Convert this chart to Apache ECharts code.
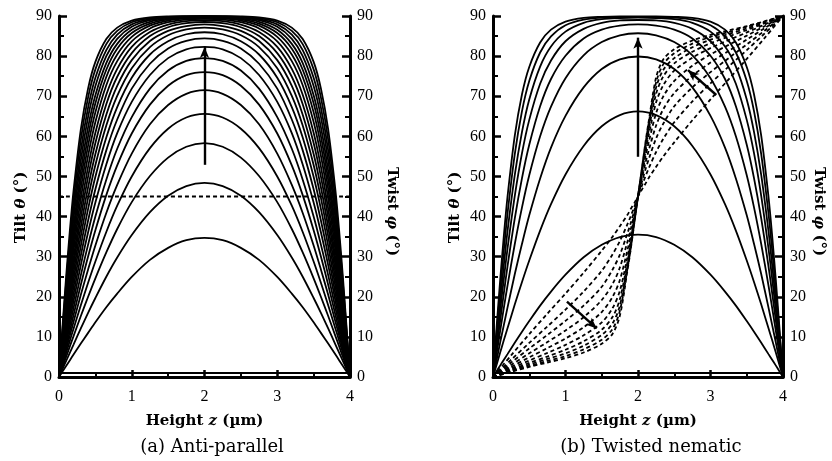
<!DOCTYPE html>
<html>
<head>
<meta charset="utf-8">
<script src="https://cdn.jsdelivr.net/npm/echarts@6/dist/echarts.min.js"></script>
<style>
html, body { margin: 0; padding: 0; background: #fff; }
#chart { width: 832px; height: 461px; }
</style>
</head>
<body>
<div id="chart"></div>
<script>
// height z (um) sample points for tilt profiles
const zTilt = [0, 0.05, 0.1, 0.15, 0.2, 0.3, 0.4, 0.5, 0.65, 0.8, 1, 1.25, 1.5, 1.75, 2,
  2.25, 2.5, 2.75, 3, 3.2, 3.35, 3.5, 3.6, 3.7, 3.8, 3.85, 3.9, 3.95, 4];
// height z (um) sample points for twist profiles
const zTwist = [0, 0.25, 0.5, 0.75, 1, 1.25, 1.5, 1.65, 1.75, 1.85, 1.9, 1.95, 2,
  2.05, 2.1, 2.15, 2.25, 2.35, 2.5, 2.75, 3, 3.25, 3.5, 3.75, 4];

// (a) anti-parallel: tilt theta (deg), one row per voltage
const tiltA = [
  [0, 1.4, 2.8, 4.2, 5.6, 8.35, 11.0, 13.65, 17.4, 20.8, 24.95, 29.2, 32.2, 34.1, 34.7, 34.1, 32.2, 29.2, 24.95, 20.8, 17.4, 13.65, 11.0, 8.35, 5.6, 4.2, 2.8, 1.4, 0],
  [0, 2.04, 4.08, 6.1, 8.1, 12.1, 16.0, 19.7, 25.0, 29.8, 35.4, 41.1, 45.2, 47.6, 48.4, 47.6, 45.2, 41.1, 35.4, 29.8, 25.0, 19.7, 16.0, 12.1, 8.1, 6.1, 4.08, 2.04, 0],
  [0, 2.6, 5.1, 7.7, 10.2, 15.2, 20.0, 24.6, 31.05, 36.9, 43.6, 50.1, 54.7, 57.4, 58.3, 57.4, 54.7, 50.1, 43.6, 36.9, 31.05, 24.6, 20.0, 15.2, 10.2, 7.7, 5.1, 2.6, 0],
  [0, 3.0, 6.1, 9.1, 12.05, 17.9, 23.5, 28.8, 36.15, 42.7, 50.0, 57.05, 61.9, 64.7, 65.6, 64.7, 61.9, 57.05, 50.0, 42.7, 36.15, 28.8, 23.5, 17.9, 12.05, 9.1, 6.1, 3.0, 0],
  [0, 3.5, 7.0, 10.4, 13.8, 20.5, 26.8, 32.8, 40.9, 47.9, 55.7, 63.0, 67.8, 70.6, 71.5, 70.6, 67.8, 63.0, 55.7, 47.9, 40.9, 32.8, 26.8, 20.5, 13.8, 10.4, 7.0, 3.5, 0],
  [0, 3.6, 7.6, 11.55, 15.45, 23.0, 30.05, 36.6, 45.35, 52.75, 60.7, 67.9, 72.6, 75.25, 76.0, 75.25, 72.6, 67.9, 60.7, 52.75, 45.35, 36.6, 30.05, 23.0, 15.45, 11.55, 7.6, 3.6, 0],
  [0, 4.2, 8.6, 12.9, 17.2, 25.4, 33.0, 40.0, 49.2, 56.9, 64.8, 71.9, 76.4, 78.8, 79.5, 78.8, 76.4, 71.9, 64.8, 56.9, 49.2, 40.0, 33.0, 25.4, 17.2, 12.9, 8.6, 4.2, 0],
  [0, 4.7, 9.6, 14.3, 19.0, 27.9, 36.1, 43.5, 53.0, 60.8, 68.6, 75.3, 79.5, 81.7, 82.3, 81.7, 79.5, 75.3, 68.6, 60.8, 53.0, 43.5, 36.1, 27.9, 19.0, 14.3, 9.6, 4.7, 0],
  [0, 5.25, 10.5, 15.7, 20.7, 30.3, 39.0, 46.8, 56.5, 64.2, 71.9, 78.1, 81.9, 83.8, 84.4, 83.8, 81.9, 78.1, 71.9, 64.2, 56.5, 46.8, 39.0, 30.3, 20.7, 15.7, 10.5, 5.25, 0],
  [0, 5.7, 11.45, 17.05, 22.5, 32.7, 41.9, 49.9, 59.7, 67.3, 74.6, 80.4, 83.7, 85.45, 85.95, 85.45, 83.7, 80.4, 74.6, 67.3, 59.7, 49.9, 41.9, 32.7, 22.5, 17.05, 11.45, 5.7, 0],
  [0, 6.25, 12.4, 18.45, 24.25, 35.1, 44.65, 52.85, 62.7, 70.1, 77.0, 82.25, 85.2, 86.65, 87.1, 86.65, 85.2, 82.25, 77.0, 70.1, 62.7, 52.85, 44.65, 35.1, 24.25, 18.45, 12.4, 6.25, 0],
  [0, 6.7, 13.3, 19.8, 26.0, 37.4, 47.3, 55.6, 65.4, 72.6, 79.0, 83.75, 86.3, 87.5, 87.9, 87.5, 86.3, 83.75, 79.0, 72.6, 65.4, 55.6, 47.3, 37.4, 26.0, 19.8, 13.3, 6.7, 0],
  [0, 7.2, 14.3, 21.2, 27.8, 39.8, 49.95, 58.35, 68.0, 74.85, 80.75, 85.0, 87.2, 88.2, 88.5, 88.2, 87.2, 85.0, 80.75, 74.85, 68.0, 58.35, 49.95, 39.8, 27.8, 21.2, 14.3, 7.2, 0],
  [0, 7.7, 15.3, 22.6, 29.5, 42.0, 52.45, 60.9, 70.35, 76.8, 82.3, 86.0, 87.85, 88.7, 88.95, 88.7, 87.85, 86.0, 82.3, 76.8, 70.35, 60.9, 52.45, 42.0, 29.5, 22.6, 15.3, 7.7, 0],
  [0, 8.3, 16.4, 24.2, 31.5, 44.5, 55.15, 63.55, 72.75, 78.75, 83.7, 86.9, 88.45, 89.1, 89.3, 89.1, 88.45, 86.9, 83.7, 78.75, 72.75, 63.55, 55.15, 44.5, 31.5, 24.2, 16.4, 8.3, 0],
  [0, 8.85, 17.5, 25.7, 33.45, 46.9, 57.7, 66.0, 74.8, 80.4, 84.8, 87.6, 88.85, 89.4, 89.55, 89.4, 88.85, 87.6, 84.8, 80.4, 74.8, 66.0, 57.7, 46.9, 33.45, 25.7, 17.5, 8.85, 0],
  [0, 9.4, 18.6, 27.25, 35.35, 49.2, 60.05, 68.25, 76.6, 81.85, 85.75, 88.1, 89.15, 89.55, 89.7, 89.55, 89.15, 88.1, 85.75, 81.85, 76.6, 68.25, 60.05, 49.2, 35.35, 27.25, 18.6, 9.4, 0],
  [0, 10.0, 19.65, 28.8, 37.2, 51.4, 62.3, 70.25, 78.25, 83.05, 86.55, 88.55, 89.35, 89.7, 89.8, 89.7, 89.35, 88.55, 86.55, 83.05, 78.25, 70.25, 62.3, 51.4, 37.2, 28.8, 19.65, 10.0, 0],
  [0, 10.7, 21.0, 30.65, 39.45, 54.0, 64.85, 72.55, 80.0, 84.3, 87.3, 88.95, 89.6, 89.8, 89.9, 89.8, 89.6, 88.95, 87.3, 84.3, 80.0, 72.55, 64.85, 54.0, 39.45, 30.65, 21.0, 10.7, 0],
  [0, 11.4, 22.3, 32.5, 41.6, 56.5, 67.2, 74.6, 81.5, 85.35, 87.9, 89.2, 89.7, 89.85, 89.9, 89.85, 89.7, 89.2, 87.9, 85.35, 81.5, 74.6, 67.2, 56.5, 41.6, 32.5, 22.3, 11.4, 0],
  [0, 12.2, 23.9, 34.6, 44.1, 59.2, 69.7, 76.7, 83.0, 86.3, 88.45, 89.45, 89.8, 89.9, 89.95, 89.9, 89.8, 89.45, 88.45, 86.3, 83.0, 76.7, 69.7, 59.2, 44.1, 34.6, 23.9, 12.2, 0],
  [0, 13.05, 25.45, 36.7, 46.5, 61.75, 71.95, 78.55, 84.25, 87.1, 88.85, 89.65, 89.9, 89.95, 89.95, 89.95, 89.9, 89.65, 88.85, 87.1, 84.25, 78.55, 71.95, 61.75, 46.5, 36.7, 25.45, 13.05, 0]
];
// (a) twist phi stays at 45 deg
const twistAz = [0, 4];
const twistA = [45, 45];

// (b) twisted nematic: tilt theta (deg)
const tiltB = [
  [0, 1.45, 2.9, 4.3, 5.7, 8.55, 11.3, 13.95, 17.8, 21.3, 25.5, 29.85, 32.95, 34.9, 35.5, 34.9, 32.95, 29.85, 25.5, 21.3, 17.8, 13.95, 11.3, 8.55, 5.7, 4.3, 2.9, 1.45, 0],
  [0, 3.05, 6.15, 9.2, 12.15, 18.05, 23.7, 29.05, 36.5, 43.1, 50.5, 57.6, 62.5, 65.3, 66.2, 65.3, 62.5, 57.6, 50.5, 43.1, 36.5, 29.05, 23.7, 18.05, 12.15, 9.2, 6.15, 3.05, 0],
  [0, 4.25, 8.7, 13.0, 17.3, 25.6, 33.2, 40.3, 49.5, 57.2, 65.1, 72.2, 76.8, 79.2, 79.9, 79.2, 76.8, 72.2, 65.1, 57.2, 49.5, 40.3, 33.2, 25.6, 17.3, 13.0, 8.7, 4.25, 0],
  [0, 5.8, 11.6, 17.3, 22.8, 33.1, 42.3, 50.3, 60.0, 67.4, 74.5, 80.2, 83.5, 85.2, 85.7, 85.2, 83.5, 80.2, 74.5, 67.4, 60.0, 50.3, 42.3, 33.1, 22.8, 17.3, 11.6, 5.8, 0],
  [0, 7.15, 14.2, 21.0, 27.6, 39.5, 49.6, 57.9, 67.5, 74.3, 80.1, 84.4, 86.6, 87.6, 87.9, 87.6, 86.6, 84.4, 80.1, 74.3, 67.5, 57.9, 49.6, 39.5, 27.6, 21.0, 14.2, 7.15, 0],
  [0, 8.45, 16.7, 24.6, 32.0, 45.1, 55.8, 64.1, 73.1, 78.9, 83.7, 86.8, 88.3, 88.9, 89.0, 88.9, 88.3, 86.8, 83.7, 78.9, 73.1, 64.1, 55.8, 45.1, 32.0, 24.6, 16.7, 8.45, 0],
  [0, 9.7, 19.1, 28.0, 36.3, 50.3, 61.1, 69.2, 77.4, 82.4, 86.1, 88.3, 89.2, 89.5, 89.6, 89.5, 89.2, 88.3, 86.1, 82.4, 77.4, 69.2, 61.1, 50.3, 36.3, 28.0, 19.1, 9.7, 0],
  [0, 11.1, 21.8, 31.7, 40.7, 55.5, 66.3, 73.8, 80.9, 84.9, 87.7, 89.1, 89.6, 89.75, 89.8, 89.75, 89.6, 89.1, 87.7, 84.9, 80.9, 73.8, 66.3, 55.5, 40.7, 31.7, 21.8, 11.1, 0],
  [0, 12.5, 24.4, 35.3, 44.9, 60.1, 70.5, 77.3, 83.4, 86.6, 88.6, 89.55, 89.8, 89.9, 89.9, 89.9, 89.8, 89.55, 88.6, 86.6, 83.4, 77.3, 70.5, 60.1, 44.9, 35.3, 24.4, 12.5, 0]
];
// (b) twisted nematic: twist phi (deg)
const twistB = [
  [0, 5.4, 10.7, 15.8, 20.8, 26.0, 31.5, 35.0, 37.6, 40.3, 41.9, 43.4, 45, 46.6, 48.1, 49.7, 52.4, 55.0, 58.5, 64.0, 69.2, 74.2, 79.3, 84.6, 90],
  [0, 4.3, 8.5, 12.6, 16.8, 21.3, 26.5, 30.6, 33.9, 37.9, 40.1, 42.5, 45, 47.5, 49.9, 52.1, 56.1, 59.4, 63.5, 68.7, 73.2, 77.4, 81.5, 85.7, 90],
  [0, 3.6, 7.1, 10.5, 14.0, 17.8, 22.5, 26.8, 30.5, 35.6, 38.4, 41.6, 45, 48.4, 51.6, 54.4, 59.5, 63.2, 67.5, 72.2, 76.0, 79.5, 82.9, 86.4, 90],
  [0, 3.0, 5.9, 8.7, 11.6, 14.9, 19.2, 23.2, 27.3, 33.4, 36.8, 40.8, 45, 49.2, 53.2, 56.6, 62.7, 66.8, 70.8, 75.1, 78.4, 81.3, 84.1, 87.0, 90],
  [0, 2.5, 4.9, 7.2, 9.6, 12.4, 16.2, 20.0, 24.2, 31.3, 35.3, 40.1, 45, 49.9, 54.7, 58.7, 65.8, 70.0, 73.8, 77.6, 80.4, 82.8, 85.1, 87.5, 90],
  [0, 2.1, 4.1, 6.0, 8.0, 10.4, 13.6, 17.2, 21.5, 29.5, 34.1, 39.5, 45, 50.5, 55.9, 60.5, 68.5, 72.8, 76.4, 79.6, 82.0, 84.0, 85.9, 87.9, 90],
  [0, 1.8, 3.5, 5.1, 6.8, 8.9, 11.8, 15.0, 19.4, 28.2, 33.2, 39.1, 45, 50.9, 56.8, 61.8, 70.6, 75.0, 78.2, 81.1, 83.2, 84.9, 86.5, 88.2, 90],
  [0, 1.6, 3.1, 4.5, 5.9, 7.8, 10.5, 13.4, 17.8, 27.2, 32.6, 38.8, 45, 51.2, 57.4, 62.8, 72.2, 76.6, 79.5, 82.2, 84.1, 85.5, 86.9, 88.4, 90],
  [0, 1.4, 2.7, 4.0, 5.2, 6.9, 9.3, 12.0, 16.5, 26.5, 32.2, 38.6, 45, 51.4, 57.8, 63.5, 73.5, 78.0, 80.7, 83.1, 84.8, 86.0, 87.3, 88.6, 90],
  [0, 1.3, 2.5, 3.6, 4.7, 6.1, 8.3, 10.8, 15.3, 26.0, 31.9, 38.5, 45, 51.5, 58.1, 64.0, 74.7, 79.2, 81.7, 83.9, 85.3, 86.4, 87.5, 88.7, 90]
];

// zero-level line drawn just above the bottom axis
const baseZ = [0, 4];
const baseVal = [1.0, 1.0];

// arrows [zStart, valStart, zEnd, valEnd]
const arrowsA = [[2, 52.9, 2, 82.3]];
const arrowsB = [[2, 54.9, 2, 84.6], [1.02, 18.8, 1.43, 12.1], [3.08, 70.3, 2.69, 76.5]];

const xTicks = [0, 4, 1];
const yTicks = [0, 90, 10];
const titles = ['(a) Anti-parallel', '(b) Twisted nematic'];

const SERIF = 'Liberation Serif';
const NAMEFONT = 'DejaVu Serif';

function pairs(z, v) {
  return z.map((x, i) => [x, v[i]]);
}

function lineSeries(z, v, grid, dashed) {
  return {
    type: 'line',
    xAxisIndex: grid,
    yAxisIndex: grid * 2,
    data: pairs(z, v),
    symbol: 'none',
    smooth: 0.3,
    silent: true,
    lineStyle: {
      color: '#000',
      width: 1.8,
      type: dashed ? [4, 3] : 'solid'
    }
  };
}

function arrowSeries(list, grid) {
  return {
    type: 'line',
    xAxisIndex: grid,
    yAxisIndex: grid * 2,
    data: [],
    silent: true,
    markLine: {
      silent: true,
      animation: false,
      symbol: ['none', 'arrow'],
      symbolSize: [7, 11],
      label: { show: false },
      lineStyle: { color: '#000', width: 2.4, type: 'solid' },
      data: list.map(a => [{ coord: [a[0], a[1]] }, { coord: [a[2], a[3]] }])
    }
  };
}

const nameRich = {
  i: { fontFamily: NAMEFONT, fontStyle: 'italic', fontWeight: 'bold', fontSize: 15, color: '#000' }
};

function xAxisOpt(grid) {
  return {
    type: 'value', gridIndex: grid,
    min: xTicks[0], max: xTicks[1], interval: xTicks[2],
    name: 'Height {i|z} (µm)',
    nameLocation: 'middle', nameGap: 37,
    nameTextStyle: { fontFamily: NAMEFONT, fontWeight: 'bold', fontSize: 15, color: '#000', rich: nameRich },
    axisLine: { show: true, lineStyle: { color: '#000', width: 3 } },
    axisTick: { show: true, inside: true, length: 7, lineStyle: { color: '#000', width: 2.5 } },
    minorTick: { show: true, splitNumber: 2, length: 5, lineStyle: { color: '#000', width: 2 } },
    splitLine: { show: false },
    axisLabel: { fontFamily: SERIF, fontSize: 16, color: '#000', margin: 12 }
  };
}

function yAxisOpt(grid, right) {
  return {
    type: 'value', gridIndex: grid, position: right ? 'right' : 'left',
    min: yTicks[0], max: yTicks[1], interval: yTicks[2],
    name: right ? 'Twist {i|φ} (°)' : 'Tilt {i|θ} (°)',
    nameLocation: 'middle',
    nameGap: right ? (grid ? 28 : 34) : 30,
    nameRotate: right ? -90 : 90,
    nameTextStyle: {
      fontFamily: NAMEFONT, fontWeight: 'bold', fontSize: 15, color: '#000', rich: nameRich,
      padding: right ? [0, 0, 0, 30] : [0, 22, 0, 0]
    },
    axisLine: { show: true, onZero: false, lineStyle: { color: '#000', width: 3 } },
    axisTick: { show: true, inside: true, length: 8, lineStyle: { color: '#000', width: 2.5 } },
    minorTick: { show: true, splitNumber: 2, length: 5, lineStyle: { color: '#000', width: 2 } },
    splitLine: { show: false },
    axisLabel: { fontFamily: SERIF, fontSize: 16, color: '#000', margin: 7 }
  };
}

const series = [];
tiltA.forEach(v => series.push(lineSeries(zTilt, v, 0, false)));
series.push(lineSeries(twistAz, twistA, 0, true));
series.push(lineSeries(baseZ, baseVal, 0, false));
series.push(arrowSeries(arrowsA, 0));

tiltB.forEach(v => series.push(lineSeries(zTilt, v, 1, false)));
twistB.forEach(v => series.push(lineSeries(zTwist, v, 1, true)));
series.push(lineSeries(baseZ, baseVal, 1, false));
series.push(arrowSeries(arrowsB, 1));

const chart = echarts.init(document.getElementById('chart'), null, { renderer: 'canvas' });
chart.setOption({
  animation: false,
  backgroundColor: '#fff',
  title: [
    { text: titles[0], left: 207, top: 433, textAlign: 'center',
      textStyle: { fontFamily: NAMEFONT, fontSize: 18, fontWeight: 'normal', color: '#000' } },
    { text: titles[1], left: 646, top: 433, textAlign: 'center',
      textStyle: { fontFamily: NAMEFONT, fontSize: 18, fontWeight: 'normal', color: '#000' } }
  ],
  grid: [
    { left: 59, top: 16, width: 291, height: 361 },
    { left: 493, top: 16, width: 290, height: 361 }
  ],
  xAxis: [xAxisOpt(0), xAxisOpt(1)],
  yAxis: [yAxisOpt(0, false), yAxisOpt(0, true), yAxisOpt(1, false), yAxisOpt(1, true)],
  series: series
});
</script>
</body>
</html>
